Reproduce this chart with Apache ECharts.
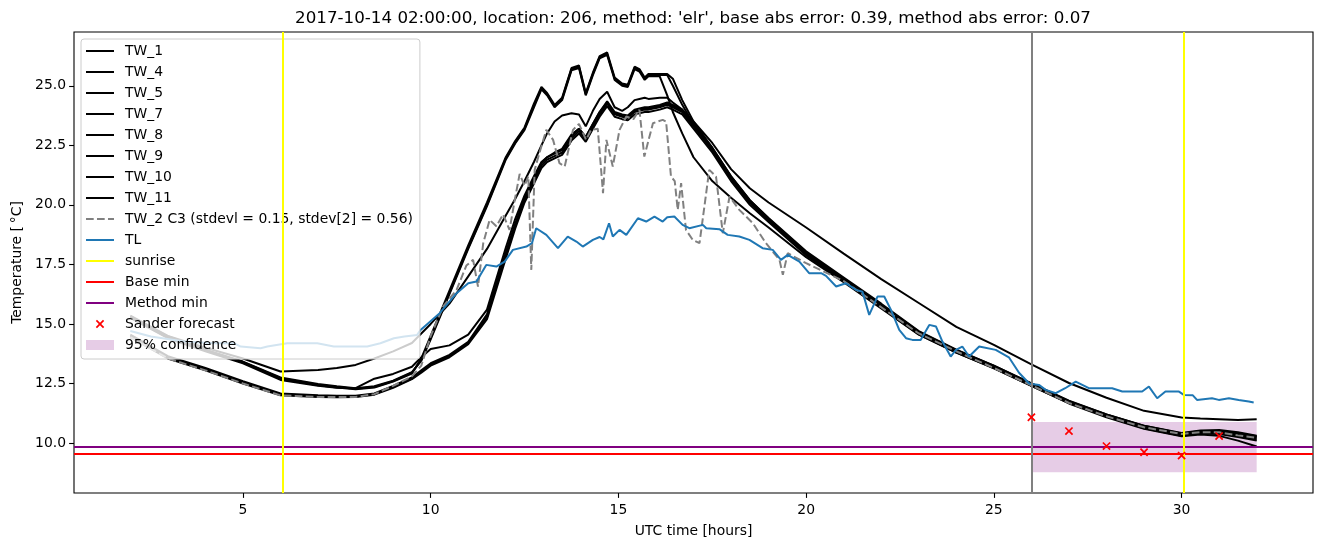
<!DOCTYPE html>
<html>
<head>
<meta charset="utf-8">
<script src="https://cdn.jsdelivr.net/npm/echarts@6/dist/echarts.min.js"></script>
<style>
  html, body { margin: 0; padding: 0; background: #fff; }
  #chart { width: 1324px; height: 547px; }
</style>
</head>
<body>
<div id="chart"></div>
<script>
// shared time grid (UTC hours) for the TW sensors
const twHours = [2, 3, 4, 5, 6, 7, 7.5, 8, 8.5, 9, 9.5, 9.75, 10, 10.5, 11, 11.5, 12, 12.25, 12.5, 12.75,
  12.95, 13.1, 13.3, 13.5, 13.75, 13.95, 14.13, 14.32, 14.5, 14.7, 14.9, 15.1, 15.25, 15.43, 15.56, 15.7, 15.8, 16.1, 16.3, 16.45,
  16.7, 17, 17.5, 18, 18.5, 19, 20, 21, 22, 23, 24, 25, 26, 27, 28, 29, 30, 30.5, 31, 31.5, 32]

const tw1 = [15.3, 14.45, 13.9, 13.4, 12.72, 12.45, 12.35, 12.28, 12.35, 12.6,
  12.95, 13.5, 14.4, 16.3, 18.2, 20.0, 21.95, 22.62, 23.2, 24.17,
  24.9, 24.65, 24.15, 24.45, 25.7, 25.8, 24.65, 25.5, 26.2, 26.35,
  25.3, 25.05, 25.0, 25.75, 25.65, 25.3, 25.45, 25.45, 25.45, 25.0,
  24.2, 23.4, 22.3, 21.1, 20.1, 19.35, 17.95, 16.85, 15.75, 14.62,
  13.85, 13.2, 12.45, 11.72, 11.15, 10.68, 10.36, 10.45, 10.45, 10.35, 10.2]
const tw4 = [15.28, 14.42, 13.88, 13.38, 12.7, 12.42, 12.33, 12.26, 12.33, 12.58,
  12.92, 13.55, 14.5, 16.4, 18.3, 20.1, 22.0, 22.68, 23.25, 24.25,
  24.95, 24.7, 24.2, 24.5, 25.75, 25.85, 24.7, 25.55, 26.25, 26.4,
  25.35, 25.1, 25.05, 25.8, 25.7, 25.35, 25.5, 25.5, 25.5, 25.3,
  24.4, 23.5, 22.4, 21.2, 20.2, 19.45, 18.05, 16.95, 15.85, 14.7,
  13.92, 13.25, 12.5, 11.76, 11.2, 10.72, 10.4, 10.5, 10.5, 10.4, 10.28]
const tw5 = [15.32, 14.48, 13.92, 13.42, 12.75, 12.48, 12.38, 12.3, 12.38, 12.62,
  12.98, 13.45, 14.35, 16.25, 18.15, 19.95, 21.9, 22.58, 23.15, 24.1,
  24.85, 24.6, 24.1, 24.4, 25.65, 25.75, 24.6, 25.45, 26.15, 26.3,
  25.25, 25.0, 24.95, 25.7, 25.6, 25.25, 25.4, 25.4, 24.6, 23.9,
  23.0, 22.0, 21.0, 20.3, 19.65, 19.05, 17.8, 16.75, 15.65, 14.55,
  13.8, 13.15, 12.4, 11.68, 11.12, 10.62, 10.3, 10.4, 10.38, 10.25, 10.1]
const tw7 = [15.35, 14.5, 14.0, 13.55, 13.0, 13.07, 13.15, 13.28, 13.55, 13.85,
  14.2, 14.6, 15.0, 15.85, 17.0, 18.15, 19.55, 20.25, 21.0, 21.8,
  22.5, 23.0, 23.5, 23.75, 23.85, 23.8, 23.3, 23.95, 24.45, 24.75,
  24.1, 23.95, 24.1, 24.4, 24.45, 24.5, 24.45, 24.5, 24.5, 24.3,
  24.0, 23.5, 22.6, 21.5, 20.7, 20.1, 19.05, 17.95, 16.88, 15.88,
  14.88, 14.12, 13.3, 12.52, 11.9, 11.35, 11.07, 11.03, 11.0, 10.97, 11.0]
const tw8 = [15.25, 14.4, 13.85, 13.35, 12.65, 12.4, 12.32, 12.3, 12.7, 12.9,
  13.2, 13.6, 13.95, 14.1, 14.55, 15.6, 18.2, 19.4, 20.4, 21.2,
  21.8, 22.0, 22.2, 22.35, 22.95, 23.2, 22.85, 23.4, 23.9, 24.3,
  23.85, 23.75, 23.7, 23.95, 24.0, 24.05, 24.05, 24.15, 24.25, 24.15,
  23.95, 23.35, 22.35, 21.15, 20.15, 19.4, 17.98, 16.88, 15.78, 14.64,
  13.87, 13.22, 12.47, 11.74, 11.17, 10.7, 10.38, 10.48, 10.48, 10.38, 10.25]
const tw9 = [14.5, 13.6, 13.1, 12.55, 12.05, 11.97, 11.95, 11.95, 12.05, 12.35,
  12.7, 13.0, 13.3, 13.65, 14.2, 15.3, 17.9, 19.1, 20.2, 21.0,
  21.65, 21.9, 22.05, 22.2, 22.8, 23.1, 22.75, 23.3, 23.8, 24.25,
  23.8, 23.7, 23.65, 23.9, 23.95, 24.0, 24.0, 24.1, 24.2, 24.1,
  23.9, 23.3, 22.3, 21.1, 20.1, 19.35, 17.93, 16.83, 15.73, 14.6,
  13.84, 13.18, 12.43, 11.7, 11.13, 10.66, 10.33, 10.42, 10.42, 10.3, 10.15]
const tw10 = [14.45, 13.55, 13.05, 12.5, 12.0, 11.93, 11.92, 11.93, 12.03, 12.32,
  12.68, 12.95, 13.25, 13.6, 14.15, 15.2, 17.75, 19.0, 20.1, 20.9,
  21.55, 21.8, 21.95, 22.1, 22.7, 23.0, 22.65, 23.2, 23.7, 24.15,
  23.7, 23.6, 23.55, 23.8, 23.85, 23.9, 23.9, 24.0, 24.1, 24.0,
  23.8, 23.2, 22.2, 21.0, 20.0, 19.28, 17.88, 16.78, 15.68, 14.56,
  13.8, 13.14, 12.4, 11.66, 11.08, 10.6, 10.28, 10.36, 10.3, 10.1, 9.85]
const tw11 = [14.55, 13.65, 13.15, 12.6, 12.08, 12.0, 11.98, 11.98, 12.08, 12.4,
  12.75, 13.05, 13.35, 13.7, 14.25, 15.4, 18.0, 19.2, 20.3, 21.1,
  21.75, 22.0, 22.15, 22.3, 22.9, 23.2, 22.85, 23.4, 23.9, 24.35,
  23.9, 23.8, 23.75, 24.0, 24.05, 24.1, 24.1, 24.2, 24.3, 24.2,
  24.0, 23.4, 22.4, 21.2, 20.2, 19.42, 18.0, 16.9, 15.8, 14.68,
  13.9, 13.25, 12.5, 11.78, 11.2, 10.73, 10.42, 10.52, 10.55, 10.45, 10.3]

// TW_2 (dashed), own sampling
const tw2Hours = [2, 3, 4, 5, 6, 7, 8, 8.5, 9, 9.5, 9.75, 10, 10.33, 10.69, 10.95, 11.13, 11.26, 11.4, 11.57, 11.75,
  11.93, 12.1, 12.24, 12.37, 12.5, 12.6, 12.68, 12.77, 12.9, 13.08, 13.26, 13.43, 13.57, 13.79, 13.95, 14.14, 14.27, 14.45, 14.59, 14.68,
  14.85, 15.03, 15.21, 15.4, 15.56, 15.69, 15.92, 16.18, 16.27, 16.4, 16.5, 16.58, 16.67, 16.8, 16.98, 17.16, 17.42, 17.6, 17.78, 17.96,
  18.22, 18.58, 18.93, 19.29, 19.38, 19.51, 20, 21, 22, 23, 24, 25, 26, 27, 28, 29, 30, 30.5, 31, 31.5, 32]
const tw2Values = [14.45, 13.55, 13.05, 12.5, 12.0, 11.93, 11.93, 12.05, 12.4, 12.8, 13.25, 14.5, 15.73, 16.43, 17.45, 17.69, 16.57, 18.39, 19.37, 19.1,
  19.6, 18.95, 20.21, 21.3, 20.8, 21.2, 17.27, 21.47, 22.2, 23.15, 22.73, 21.75, 21.61, 23.15, 23.4, 22.73, 23.15, 23.2, 20.49, 22.73,
  21.61, 23.15, 23.71, 23.6, 23.99, 22.03, 23.43, 23.57, 23.5, 21.19, 21.0, 19.79, 20.91, 18.95, 18.53, 18.39, 21.47, 21.19, 18.81, 20.35,
  19.79, 19.23, 18.39, 17.69, 17.06, 17.97, 17.55, 16.8, 15.7, 14.6, 13.85, 13.15, 12.42, 11.68, 11.12, 10.66, 10.38, 10.45, 10.45, 10.32, 10.22]

// TL
const tlHours = [2, 2.55, 3.43, 4.23, 4.76, 4.94, 5.47, 5.65, 6.18, 6.98, 7.42, 8.31, 8.66, 9.02, 9.3, 9.64, 9.73, 10.24, 10.69, 11.0,
  11.22, 11.48, 11.75, 11.97, 12.19, 12.55, 12.7, 12.81, 13.08, 13.39, 13.65, 13.88, 14.05, 14.32, 14.5, 14.6, 14.75, 14.85, 15.03, 15.21,
  15.52, 15.74, 15.96, 16.18, 16.3, 16.49, 16.71, 16.89, 17.25, 17.34, 17.69, 17.91, 18.22, 18.49, 18.84, 19.11, 19.33, 19.51, 19.82, 20.08,
  20.4, 20.53, 20.8, 21.06, 21.33, 21.5, 21.68, 21.9, 22.08, 22.26, 22.48, 22.66, 22.83, 23.05, 23.28, 23.46, 23.63, 23.85, 23.99, 24.16,
  24.34, 24.61, 25.05, 25.4, 25.67, 25.94, 26.2, 26.38, 26.65, 26.9, 27.18, 27.53, 28.15, 28.42, 28.95, 29.13, 29.35, 29.57, 29.93, 30.06,
  30.3, 30.41, 30.81, 30.99, 31.26, 31.52, 31.79, 31.92]
const tlValues = [14.7, 14.47, 14.26, 14.19, 14.19, 14.05, 13.98, 14.05, 14.19, 14.19, 14.05, 14.05, 14.19, 14.4, 14.47, 14.54, 14.75, 15.45, 16.29, 16.71,
  16.78, 17.48, 17.41, 17.62, 18.11, 18.25, 18.4, 19.02, 18.74, 18.18, 18.67, 18.46, 18.25, 18.53, 18.65, 18.55, 19.23, 18.67, 18.95, 18.74,
  19.44, 19.3, 19.51, 19.3, 19.48, 19.51, 19.16, 19.02, 19.16, 19.02, 18.98, 18.74, 18.67, 18.53, 18.18, 18.11, 17.69, 17.9, 17.62, 17.13,
  17.13, 17.02, 16.57, 16.71, 16.43, 16.35, 15.38, 16.15, 16.15, 15.59, 14.75, 14.4, 14.33, 14.33, 14.96, 14.89, 14.26, 13.63, 13.91, 14.05,
  13.63, 14.05, 13.91, 13.6, 12.95, 12.5, 12.44, 12.23, 12.09, 12.3, 12.58, 12.3, 12.3, 12.16, 12.16, 12.37, 11.88, 12.16, 12.16, 12.02,
  12.0, 11.81, 11.88, 11.81, 11.88, 11.81, 11.74, 11.7]

const sunriseHours = [6.05, 30.05]
const forecastStart = 26
const baseMin = 9.54
const methodMin = 9.83
const sanderHours = [26, 27, 28, 29, 30, 31]
const sanderValues = [11.08, 10.5, 9.87, 9.61, 9.47, 10.29]
const confHours = [26, 32]
const confLow = 8.77
const confHigh = 10.88

const xTicks = [5, 10, 15, 20, 25, 30]
const yTicks = [10, 12.5, 15, 17.5, 20, 22.5, 25]
const xMin = 0.5, xMax = 33.5, yMin = 7.9, yMax = 27.26

const FONT = 'DejaVu Sans'
const pair = (xs, ys) => xs.map((x, i) => [x, ys[i]])

const twNames = ['TW_1', 'TW_4', 'TW_5', 'TW_7', 'TW_8', 'TW_9', 'TW_10', 'TW_11']
const twData = [tw1, tw4, tw5, tw7, tw8, tw9, tw10, tw11]
const tw2Name = 'TW_2 C3 (stdevl = 0.15, stdev[2] = 0.56)'

const twSeries = twNames.map((name, k) => ({
  name: name,
  type: 'line',
  data: pair(twHours, twData[k]),
  symbol: 'none',
  color: '#000000',
  lineStyle: { color: '#000000', width: 2 },
  z: 2
}))

// legend handles: invisible corner points keep the 28x14 box, shapes drawn inside
const BOX = 'M0,0L0.01,0M28,14L28.01,14'
const lineIcon = 'path://' + BOX + 'M0,5.95L28,5.95L28,8.05L0,8.05Z'
const dashIcon = 'path://' + BOX + 'M0,5.95L7.7,5.95L7.7,8.05L0,8.05ZM11,5.95L18.7,5.95L18.7,8.05L11,8.05ZM22,5.95L28,5.95L28,8.05L22,8.05Z'
const xLegendIcon = 'path://' + BOX + 'M9.8,4L11,2.8L14,5.8L17,2.8L18.2,4L15.2,7L18.2,10L17,11.2L14,8.2L11,11.2L9.8,10L12.8,7Z'
const rectIcon = 'path://M0,0h28v10h-28z'
const xMark = 'path://M-4.2,-3L-3,-4.2L0,-1.2L3,-4.2L4.2,-3L1.2,0L4.2,3L3,4.2L0,1.2L-3,4.2L-4.2,3L-1.2,0Z'

const legendItem = (name, icon, color) => ({ name: name, icon: icon, itemStyle: { color: color, borderWidth: 0 } })

const chart = echarts.init(document.getElementById('chart'), null, { renderer: 'canvas' })
chart.setOption({
  animation: false,
  backgroundColor: '#ffffff',
  textStyle: { fontFamily: FONT },
  title: {
    text: "2017-10-14 02:00:00, location: 206, method: 'elr', base abs error: 0.39, method abs error: 0.07",
    left: 693,
    textAlign: 'center',
    top: 10,
    padding: 0,
    textStyle: { fontFamily: FONT, fontSize: 16.7, fontWeight: 'normal', color: '#000' }
  },
  grid: {
    left: 74, right: 11, top: 32, bottom: 54,
    show: true, borderColor: '#000', borderWidth: 1.1,
    containLabel: false, outerBoundsMode: 'none'
  },
  legend: {
    orient: 'vertical',
    left: 81, top: 39,
    padding: [5, 7, 7, 5],
    itemWidth: 28, itemHeight: 14, itemGap: 7,
    backgroundColor: 'rgba(255,255,255,0.8)',
    borderColor: '#cccccc', borderWidth: 1, borderRadius: 3,
    selectedMode: false,
    textStyle: { fontFamily: FONT, fontSize: 13.9, color: '#000', lineHeight: 14, padding: [0, 0, 0, 6] },
    data: twNames.map(n => legendItem(n, lineIcon, '#000000')).concat([
      legendItem(tw2Name, dashIcon, '#808080'),
      legendItem('TL', lineIcon, '#1f77b4'),
      legendItem('sunrise', lineIcon, '#ffff00'),
      legendItem('Base min', lineIcon, '#ff0000'),
      legendItem('Method min', lineIcon, '#800080'),
      legendItem('Sander forecast', xLegendIcon, '#ff0000'),
      legendItem('95% confidence', rectIcon, 'rgba(128,0,128,0.2)')
    ])
  },
  xAxis: {
    type: 'value', min: xMin, max: xMax,
    name: 'UTC time [hours]', nameLocation: 'middle', nameGap: 31,
    nameTextStyle: { fontFamily: FONT, fontSize: 13.9, color: '#000' },
    axisLine: { show: false },
    axisTick: { show: true, length: 4.9, lineStyle: { color: '#000', width: 1.1 }, customValues: xTicks },
    axisLabel: { color: '#000', fontFamily: FONT, fontSize: 13.9, margin: 10, customValues: xTicks },
    splitLine: { show: false }
  },
  yAxis: {
    type: 'value', min: yMin, max: yMax,
    name: 'Temperature [\u2009°C]', nameLocation: 'middle', nameGap: 46, nameRotate: 90,
    nameTextStyle: { fontFamily: FONT, fontSize: 13.9, color: '#000' },
    axisLine: { show: false },
    axisTick: { show: true, length: 4.9, lineStyle: { color: '#000', width: 1.1 }, customValues: yTicks },
    axisLabel: { color: '#000', fontFamily: FONT, fontSize: 13.9, margin: 8, customValues: yTicks,
      formatter: v => v.toFixed(1) },
    splitLine: { show: false }
  },
  series: twSeries.concat([
    {
      name: tw2Name,
      type: 'line',
      data: pair(tw2Hours, tw2Values),
      symbol: 'none',
      color: '#808080',
      lineStyle: { color: '#808080', width: 2, type: [7.7, 3.3] },
      z: 3
    },
    {
      name: 'TL',
      type: 'line',
      data: pair(tlHours, tlValues),
      symbol: 'none',
      color: '#1f77b4',
      lineStyle: { color: '#1f77b4', width: 2 },
      z: 3
    },
    {
      name: 'sunrise',
      type: 'line',
      data: [],
      symbol: 'none',
      color: '#ffff00',
      z: 4,
      markLine: {
        silent: true, symbol: ['none', 'none'], label: { show: false },
        lineStyle: { color: '#ffff00', width: 2, type: 'solid' },
        emphasis: { disabled: true },
        data: sunriseHours.map(h => ({ xAxis: h }))
      }
    },
    {
      name: 'forecast start',
      type: 'line',
      data: [],
      symbol: 'none',
      z: 4,
      markLine: {
        silent: true, symbol: ['none', 'none'], label: { show: false },
        lineStyle: { color: '#808080', width: 2, type: 'solid' },
        emphasis: { disabled: true },
        data: [{ xAxis: forecastStart }]
      }
    },
    {
      name: 'Base min',
      type: 'line',
      data: [[xMin, baseMin], [xMax, baseMin]],
      symbol: 'none',
      color: '#ff0000',
      lineStyle: { color: '#ff0000', width: 2 },
      z: 4
    },
    {
      name: 'Method min',
      type: 'line',
      data: [[xMin, methodMin], [xMax, methodMin]],
      symbol: 'none',
      color: '#800080',
      lineStyle: { color: '#800080', width: 2 },
      z: 4
    },
    {
      name: 'Sander forecast',
      type: 'scatter',
      data: pair(sanderHours, sanderValues),
      symbol: xMark,
      symbolSize: 8.4,
      color: '#ff0000',
      itemStyle: { color: '#ff0000', opacity: 1 },
      z: 5
    },
    {
      name: '95% confidence',
      type: 'line',
      data: [],
      symbol: 'none',
      color: 'rgba(128,0,128,0.2)',
      z: 5,
      markArea: {
        silent: true,
        itemStyle: { color: 'rgba(128,0,128,0.2)' },
        emphasis: { disabled: true },
        data: [[{ xAxis: confHours[0], yAxis: confLow }, { xAxis: confHours[1], yAxis: confHigh }]]
      }
    }
  ])
})
</script>
</body>
</html>
